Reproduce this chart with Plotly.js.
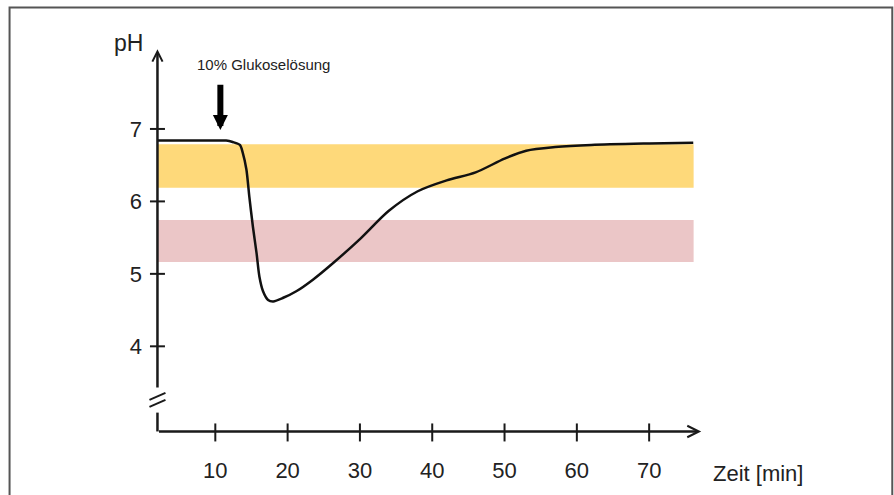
<!DOCTYPE html>
<html>
<head>
<meta charset="utf-8">
<script src="https://cdn.plot.ly/plotly-3.0.1.min.js"></script>
<style>html,body{margin:0;padding:0;background:#fff;}#chart{width:894px;height:495px;}</style>
</head>
<body>
<div id="chart"></div>
<script>
// Data
var timeMin = [2, 6, 10, 11.5, 12.4, 13.4, 13.8, 14.3, 14.7, 15.2, 15.7, 16.1, 16.6, 17.3, 18.0, 19.4, 21.2, 23.5, 26.3, 30.0, 34.0, 38.0, 42.0, 46.0, 50.0, 53.0, 57.0, 62.0, 70.0, 76.1];
var phValues = [6.84, 6.84, 6.84, 6.84, 6.82, 6.78, 6.67, 6.44, 6.07, 5.65, 5.29, 4.96, 4.76, 4.64, 4.62, 4.67, 4.76, 4.92, 5.15, 5.48, 5.87, 6.14, 6.29, 6.40, 6.59, 6.70, 6.75, 6.78, 6.80, 6.81];
var xTicks = [10, 20, 30, 40, 50, 60, 70];
var yTicks = [4, 5, 6, 7];
var yellowBand = [6.19, 6.79];
var pinkBand = [5.165, 5.745];
var bandTime = [2, 76.15];
var glucoseTime = 10.7;
var axisOrigin = [2, 2.825];
var axisEnds = [77.2, 8.10];
var breakGap = [3.085, 3.41];
var labels = {y: 'pH', x: 'Zeit [min]', event: '10% Glukoselösung'};

var axColor = '#1a1a1a';
var txtColor = '#222';
var font = 'Liberation Sans, Arial, sans-serif';
var shapes = [];
// bands
shapes.push({type:'rect', xref:'x', yref:'y', x0:bandTime[0], x1:bandTime[1], y0:yellowBand[0], y1:yellowBand[1], fillcolor:'#fed97a', line:{width:0}, layer:'below'});
shapes.push({type:'rect', xref:'x', yref:'y', x0:bandTime[0], x1:bandTime[1], y0:pinkBand[0], y1:pinkBand[1], fillcolor:'#ebc6c7', line:{width:0}, layer:'below'});
// lower y-axis segment (below break)
shapes.push({type:'line', xref:'x', yref:'y', x0:axisOrigin[0], x1:axisOrigin[0], y0:axisOrigin[1], y1:breakGap[0], line:{color:axColor, width:2.5}});
// break marks
shapes.push({type:'line', xref:'x', yref:'y', xsizemode:'pixel', ysizemode:'pixel', xanchor:axisOrigin[0], yanchor:(breakGap[0]+breakGap[1])/2, x0:-8, x1:8, y0:1, y1:8, line:{color:axColor, width:2}});
shapes.push({type:'line', xref:'x', yref:'y', xsizemode:'pixel', ysizemode:'pixel', xanchor:axisOrigin[0], yanchor:(breakGap[0]+breakGap[1])/2, x0:-8, x1:8, y0:-6, y1:1, line:{color:axColor, width:2}});
// tick crosses
xTicks.forEach(function(t){
  shapes.push({type:'line', xref:'x', yref:'y', ysizemode:'pixel', yanchor:axisOrigin[1], x0:t, x1:t, y0:-10, y1:8, line:{color:axColor, width:2}});
});
yTicks.forEach(function(t){
  shapes.push({type:'line', xref:'x', yref:'y', xsizemode:'pixel', xanchor:axisOrigin[0], y0:t, y1:t, x0:-7.5, x1:7.5, line:{color:axColor, width:2}});
});
// outer frame
shapes.push({type:'rect', xref:'paper', yref:'paper', x0:-0.2366, x1:1.3285, y0:-0.3, y1:1.0835, line:{color:'#555', width:2}, fillcolor:'rgba(0,0,0,0)'});

var annotations = [
  {xref:'x', yref:'y', axref:'x', ayref:'y', x:axisEnds[0], y:axisOrigin[1], ax:axisOrigin[0], ay:axisOrigin[1], text:'', showarrow:true, arrowhead:5, arrowsize:0.9, arrowwidth:2.5, arrowcolor:axColor},
  {xref:'x', yref:'y', axref:'x', ayref:'y', x:axisOrigin[0], y:axisEnds[1], ax:axisOrigin[0], ay:breakGap[1], text:'', showarrow:true, arrowhead:5, arrowsize:0.8, arrowwidth:2.5, arrowcolor:axColor},
  {xref:'x', yref:'y', axref:'x', ayref:'y', x:glucoseTime, y:6.986, ax:glucoseTime, ay:7.63, text:'', showarrow:true, arrowhead:2, arrowsize:0.5, arrowwidth:6, arrowcolor:'#000'},
  {xref:'paper', yref:'paper', x:0.2139, y:0.9444, text:labels.event, showarrow:false, font:{family:font, size:15, color:txtColor}, xanchor:'center', yanchor:'middle'},
  {xref:'paper', yref:'paper', x:-0.0255, y:0.9976, text:labels.y, showarrow:false, font:{family:font, size:23, color:txtColor}, xanchor:'center', yanchor:'middle'},
  {xref:'paper', yref:'paper', x:1.0897, y:-0.0442, text:labels.x, showarrow:false, font:{family:font, size:22, color:txtColor}, xanchor:'center', yanchor:'middle'}
];

var trace = {x: timeMin, y: phValues, type:'scatter', mode:'lines', line:{color:'#111', width:2.5, shape:'spline', smoothing:0.8}, hoverinfo:'skip'};

var layout = {
  width:894, height:495,
  margin:{l:143.4, r:186.7, t:42, b:39.75, pad:0},
  paper_bgcolor:'#fff', plot_bgcolor:'rgba(0,0,0,0)',
  showlegend:false,
  xaxis:{range:[0,78], tickvals:xTicks, ticktext:xTicks.map(String), ticks:'', showgrid:false, zeroline:false, showline:false, tickfont:{family:font, size:22, color:txtColor}, fixedrange:true},
  yaxis:{range:[2.5,8.2], tickvals:yTicks, ticktext:yTicks.map(String), ticks:'', showgrid:false, zeroline:false, showline:false, tickfont:{family:font, size:22, color:txtColor}, fixedrange:true},
  shapes:shapes,
  annotations:annotations
};

Plotly.newPlot('chart', [trace], layout, {displayModeBar:false, staticPlot:true});
</script>
</body>
</html>
